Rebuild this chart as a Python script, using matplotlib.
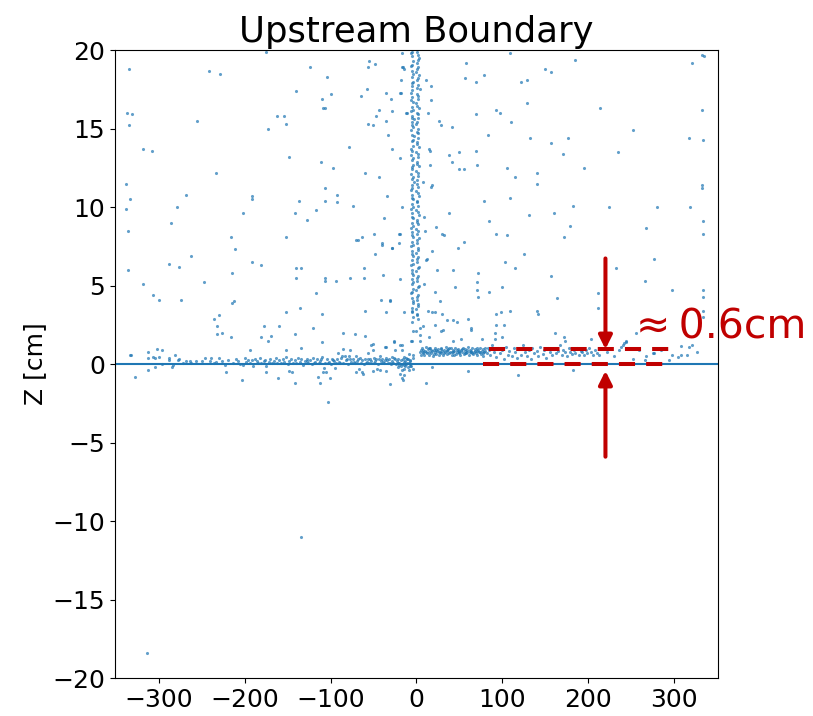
import numpy as np
import matplotlib.pyplot as plt

# scattered hits away from the boundary (x [cm], z [cm])
halo = [(-335, 18.8), (-242, 18.7), (-229, 18.5), (-175, 19.9), (-124, 18.9), (-104, 18.3), (-55, 19.3),
        (-56, 18.9), (-48, 19.1), (-17, 19.8), (-17, 18.9), (-15, 18.8), (-140, 17.4), (-110, 16.9),
        (-99, 17.2), (-109, 16.3), (-106, 16.3), (-65, 17.1), (-58, 17.5), (-35, 17.3), (-30, 16.9),
        (-18, 17.3), (-18, 18.1), (-12, 16.0), (-337, 16.0), (-331, 15.9), (-335, 15.2), (-256, 15.5),
        (-163, 15.8), (-154, 15.8), (-152, 15.3), (-173, 15.0), (-44, 16.2), (-47, 15.8), (-57, 15.3),
        (-51, 15.2), (-36, 15.5), (-29, 16.1), (-33, 14.6), (-319, 13.7), (-308, 13.6), (-234, 12.2),
        (-148, 13.2), (-79, 13.8), (-111, 12.9), (-97, 12.5), (-28, 13.7), (-19, 13.1), (-60, 12.2),
        (-44, 11.9), (-338, 11.5), (-334, 10.5), (-338, 9.9), (-336, 8.5), (-268, 10.8), (-279, 10.0),
        (-286, 9.0), (-192, 10.7), (-192, 10.5), (-202, 9.6), (-137, 10.4), (-141, 9.6), (-127, 9.2),
        (-117, 9.8), (-107, 11.2), (-106, 10.4), (-93, 10.8), (-92, 10.3), (-74, 10.1), (-17, 10.0),
        (-34, 10.7), (-38, 9.3), (-152, 8.1), (-216, 8.1), (-211, 7.3), (-263, 6.9), (-336, 6.0),
        (-288, 6.4), (-277, 6.2), (-319, 5.1), (-307, 4.4), (-300, 4.1), (-274, 4.1), (-247, 5.2),
        (-215, 5.8), (-215, 3.9), (-213, 4.0), (-192, 6.5), (-181, 6.3), (-140, 6.1), (-135, 6.1),
        (-140, 5.5), (-106, 5.5), (-106, 5.3), (-94, 5.3), (-77, 5.5), (-61, 5.5), (-61, 6.1),
        (-70, 7.9), (-68, 7.9), (-64, 8.1), (-50, 8.3), (-40, 7.7), (-29, 7.4), (-20, 8.3), (-20, 7.7),
        (-48, 7.0), (-39, 5.7), (-19, 5.4), (-117, 4.5), (-136, 3.6), (-152, 3.3), (-110, 3.2),
        (-121, 2.3), (-110, 1.4), (-85, 2.0), (-72, 1.9), (-60, 1.8), (-60, 3.4), (-41, 4.1), (-31, 4.1),
        (-35, 3.3), (-14, 3.3), (-51, 1.3), (-37, 1.1), (-26, 1.4), (-17, 1.2), (-236, 2.9), (-230, 3.1),
        (-232, 2.4), (-232, 1.9), (-227, 2.0), (-216, 1.7), (-178, 2.4), (-160, 2.4), (-169, 1.8),
        (-173, 1.5), (-181, 1.7), (-142, 1.9), (-135, 1.0), (-152, 0.9), (-194, 0.9), (-332, 0.6),
        (-16, 18.9), (-19, 17.3), (-11, 16.0), (-19, 8.3), (-28, 7.4), (-40, 7.6), (-31, 4.0),
        (-328, -0.8), (-103, -2.4), (-135, -11.0), (-314, -18.4), (-203, -1.0), (-141, -1.2),
        (-112, -1.2), (-31, -1.25),
        (109, 19.8), (185, 19.4), (332, 19.7), (335, 19.6), (321, 19.2), (58, 19.2), (57, 18.2),
        (69, 18.0), (79, 18.4), (150, 18.8), (157, 18.6), (122, 18.0), (129, 18.1), (17, 17.7),
        (17, 16.8), (129, 16.6), (214, 16.3), (332, 16.2), (92, 16.2), (97, 16.0), (69, 15.9),
        (13, 16.0), (26, 15.5), (29, 15.2), (41, 15.1), (110, 15.4), (83, 14.6), (132, 14.4),
        (157, 14.1), (176, 14.4), (252, 14.9), (317, 14.4), (333, 14.3), (14, 13.7), (16, 13.6),
        (38, 13.3), (41, 12.9), (50, 13.5), (69, 13.6), (71, 12.7), (49, 12.4), (55, 12.4), (16, 12.7),
        (170, 13.4), (235, 13.5), (105, 12.5), (115, 11.9), (140, 12.2), (140, 11.5), (195, 12.5),
        (18, 11.4), (17, 11.3), (79, 10.4), (109, 10.6), (182, 10.1), (224, 10.0), (280, 10.0),
        (319, 10.0), (332, 11.4), (332, 11.2), (38, 9.6), (84, 9.1), (131, 9.5), (160, 9.6), (179, 8.8),
        (172, 8.1), (267, 8.7), (333, 9.1), (333, 8.3), (23, 8.75), (30, 8.3), (32, 8.2), (92, 8.3),
        (105, 8.2), (55, 7.75), (48, 7.4), (18, 7.2), (11, 6.6), (12, 6.7), (125, 7.0), (103, 6.5),
        (115, 6.1), (43, 6.0), (72, 5.8), (157, 5.6), (232, 6.1), (277, 6.7), (24, 6.0), (71, 5.2),
        (71, 4.75), (72, 4.25), (22, 4.6), (45, 4.9), (84, 4.6), (100, 4.9), (164, 4.2), (211, 4.5),
        (211, 3.6), (266, 5.3), (298, 4.7), (333, 4.7), (333, 4.3), (334, 3.4), (334, 3.0), (18, 3.3),
        (27, 4.0), (36, 2.8), (47, 2.7), (60, 2.9), (63, 2.3), (63, 2.2), (93, 3.2), (98, 3.3), (93, 2.5),
        (102, 2.5), (109, 3.4), (140, 3.4), (142, 3.2), (7, 2.4), (31, 2.2), (42, 1.5), (52, 1.6),
        (76, 1.6), (91, 1.95), (91, 1.6), (100, 1.7), (161, 1.95), (173, 1.5), (203, 1.6), (244, 1.4),
        (255, 1.95), (172, 1.74), (10.5, 18.1), (8, 11.6), (8.5, 9.4), (10, 8.5), (8.5, 5.1),
        (13.6, 3.4), (21, 3.3), (30, 3.2), (22, 2.5), (29, 2.1), (42, 2.8), (-4, 2.1), (-1, 2.1),
        (3.5, 2.3), (3.5, 1.85), (3.5, 1.5), (14, 1.7), (11, -1.2), (60, -0.45), (118, -0.7),
        (18, -0.17), (182, -0.38), (-17, -0.4), (-17, -0.9), (-15, -0.7)]

# hits along the boundary, x < 0
band_left = [(-333, 0.6), (-313, 0.36), (-313, 0.74), (-304, 0.40), (-302, 0.96), (-296, 0.9), (-296, -0.02),
             (-307, 0.42), (-300, 0.42), (-313, -0.4), (-304, -0.2), (-285, -0.2), (-288, 0.23), (-288, 0.40),
             (-283, -0.06), (-278, 0.26), (-281, 0.55), (-277, 0.3), (-272, 0.1), (-268, 0.19), (-264, 0.19),
             (-262, 0.05), (-257, 0.19), (-250, 0.19), (-246, 0.40), (-241, 0.19), (-239, 0.40), (-236, 0.05),
             (-233, 0.15), (-230, 0.40), (-227, 0.19), (-223, -0.06), (-222, -0.5), (-219, 0.26), (-214, 0.1),
             (-210, 0.3), (-208, 0.19), (-205, 0.0), (-202, -0.06), (-200, 0.36), (-198, 0.15), (-196, 0.25),
             (-194, 0.05), (-192, 0.26), (-190, -0.15), (-188, 0.3), (-186, 0.19), (-184, 0.1), (-182, 0.36),
             (-181, 0.04), (-178, 0.2), (-176, 0.26), (-175, -0.1), (-175, -0.5), (-172, 0.15), (-170, 0.3),
             (-168, 0.05), (-166, 0.22), (-164, 0.4), (-162, 0.1), (-161, -0.87), (-160, 0.25), (-158, 0.05),
             (-156, 0.3), (-154, 0.15), (-152, 0.45), (-150, 0.0), (-149, -0.45), (-148, 0.2), (-146, 0.35),
             (-145, -0.5), (-144, 0.1), (-142, 0.25), (-140, 0.05), (-138, 0.4), (-136, 0.15), (-134, 0.3),
             (-132, -0.05), (-130, 0.2), (-128, 0.35), (-126, 0.1), (-124, 0.25), (-122, 0.0), (-120, 0.4),
             (-118, 0.15), (-116, 0.3), (-115, -0.8), (-114, 0.05), (-112, 0.2), (-110, 0.45), (-109, -0.5),
             (-108, -0.28), (-107, 0.1), (-105, -0.49), (-104, 0.3), (-102, 0.15), (-101, -0.9), (-100, 0.0),
             (-98, 0.35), (-96, 0.2), (-95, -0.22), (-94, 0.05), (-92, 0.3), (-91, 0.68), (-90, 0.15),
             (-88, 0.4), (-87, 0.49), (-86, 0.95), (-85, 0.1), (-83, 0.49), (-82, 0.25), (-80, 0.0),
             (-79, 0.5), (-78, 0.35), (-77, 0.9), (-76, 0.15), (-74, 0.3), (-72, 0.05), (-71, 0.5),
             (-70, -0.49), (-69, 0.2), (-67, -0.3), (-66, 0.4), (-65, 0.1), (-64, -0.5), (-63, 0.25),
             (-62, -0.6), (-61, 0.0), (-60, 0.35), (-58, 0.15), (-57, 0.68), (-56, 0.3), (-55, 0.05),
             (-53, 1.2), (-53, 0.2), (-51, -0.45), (-51, 0.9), (-50, 0.4), (-49, 0.1), (-47, 0.3), (-46, -0.3),
             (-45, 0.0), (-43, 0.5), (-42, -0.4), (-41, 0.2), (-40, 0.35), (-38, 0.05), (-37, 0.25),
             (-36, -0.45), (-36, 1.1), (-35, 0.4), (-33, 0.1), (-32, 0.3), (-30, 0.0), (-29, 0.2), (-28, 0.45),
             (-27, 0.1), (-26, 1.47), (-25, 0.9), (-25, 0.3), (-24, 0.0), (-23, 0.2), (-22, -0.2), (-21, 0.35),
             (-20, -0.06), (-20, 0.1), (-19, 1.2), (-19, -0.6), (-18, 0.25), (-17, 0.0), (-17, 0.9),
             (-16, -1.0), (-16, 0.3), (-15, 0.15), (-14, -0.06), (-14, -0.3), (-13, 0.2), (-12, 0.4),
             (-12, 0.0), (-11, 0.1), (-10, -0.2), (-10, 0.3), (-9, 0.64), (-9, 0.05), (-8, -0.15), (-8, 0.2),
             (-7, 0.0), (-6, 1.5), (-5, 1.5), (-4, 0.6), (-4, 0.4), (-4, -0.3),
             (-127, 0.22), (-119, 0.05), (-111, 0.32), (-103, 0.1), (-97, 0.25), (-89, 0.05), (-81, 0.3),
             (-73, 0.15), (-68, 0.35), (-59, 0.1), (-54, 0.3), (-48, 0.2), (-44, 0.35), (-39, 0.15),
             (-34, 0.25), (-31, 0.1), (-26, 0.4), (-22, 0.1), (-18, -0.1), (-15, 0.45), (-13, -0.15),
             (-11, 0.3), (-9, -0.4), (-7, 0.25), (-6, -0.1)]

# vertical column of hits near x = 0
column = [(-5, 19.9), (1, 19.9), (2, 19.7), (-5, 19.6), (3, 19.5), (-4, 19.3), (1, 19.2), (-6, 19.0), (2, 18.9),
          (-5, 18.7), (0, 18.6), (3, 18.4), (-5, 18.3), (-4, 18.0), (1, 18.1), (2, 17.8), (-5, 17.7), (4, 17.5),
          (-6, 17.3), (1, 17.2), (-5, 17.0), (2, 16.9), (-4, 16.7), (0, 16.6), (-5, 16.4), (3, 16.3),
          (-6, 16.1), (1, 16.0), (-5, 15.8), (2, 15.7), (-3, 15.6), (-5, 15.4), (0, 15.3), (-4, 15.1),
          (2, 15.0), (-6, 14.9), (1, 14.8), (-5, 14.6), (-3, 14.5), (2, 14.4), (-5, 14.2), (1, 14.0),
          (-4, 13.9), (3, 13.8), (-5, 13.6), (0, 13.5), (-6, 13.3), (2, 13.2), (-5, 13.0), (1, 12.9),
          (-4, 12.7), (3, 12.6), (-5, 12.4), (0, 12.3), (-6, 12.1), (2, 12.0), (-5, 11.8), (1, 11.7),
          (-3, 11.6), (-5, 11.4), (2, 11.3), (-6, 11.1), (0, 11.0), (-5, 10.8), (3, 10.7), (-4, 10.5),
          (1, 10.4), (-5, 10.2), (2, 10.1), (-6, 9.9), (0, 9.8), (-5, 9.6), (3, 9.5), (-4, 9.3), (1, 9.2),
          (-5, 9.0), (2, 8.9), (-6, 8.7), (0, 8.6), (-5, 8.4), (1, 8.3), (-4, 8.1), (3, 8.0), (-5, 7.8),
          (1, 7.7), (-6, 7.5), (2, 7.4), (-5, 7.2), (0, 7.1), (-4, 6.9), (2, 6.8), (-5, 6.6), (1, 6.5),
          (-6, 6.3), (3, 6.2), (-5, 6.0), (0, 5.9), (-4, 5.7), (2, 5.6), (-5, 5.4), (1, 5.3), (-5, 5.1),
          (3, 5.0), (-4, 4.8), (0, 4.7), (-6, 4.5), (2, 4.4), (-5, 4.2), (1, 4.1), (-4, 3.9), (2, 3.8),
          (-5, 3.6), (0, 3.5), (-5, 3.3), (1, 3.2), (-4, 3.0), (2, 2.9), (-5, 2.7),
          (-6, 19.8), (2, 19.4), (-5, 19.05), (1, 18.8), (-4, 18.5), (2, 18.25), (-5, 17.9), (1, 17.6),
          (-5, 17.45), (2, 17.1), (-6, 16.8), (1, 16.45), (-4, 16.2), (2, 15.9), (-5, 15.65), (1, 15.45),
          (-5, 15.2), (2, 14.7), (-4, 14.3), (1, 14.15), (-6, 13.7), (2, 13.4), (-4, 13.1), (1, 12.75),
          (-5, 12.55), (2, 12.2), (-4, 11.9), (1, 11.5), (-5, 11.2), (2, 10.9), (-5, 10.6), (1, 10.3),
          (-4, 10.0), (2, 9.7), (-5, 9.4), (1, 9.05), (-4, 8.8), (2, 8.5), (-5, 8.2), (1, 7.9), (-4, 7.6),
          (2, 7.25), (-5, 7.0), (1, 6.7), (-4, 6.4), (2, 6.1), (-5, 5.8), (1, 5.5), (-4, 5.2), (2, 4.9),
          (-5, 4.6), (1, 4.3), (-4, 4.0), (2, 3.7), (-5, 3.4), (1, 3.1)]

# hits along the shifted boundary, x > 0
band_right = [(4, 0.8), (5, 0.6), (6, 1.0), (7, 0.75), (8, 0.9), (9, 0.55), (10, 0.85), (11, 1.1), (12, 0.7),
              (13, 0.95), (14, 0.6), (15, 0.8), (16, 1.0), (17, 0.7), (18, 0.85), (19, 0.5), (20, 0.9),
              (21, 0.75), (22, 1.05), (23, 0.65), (24, 0.85), (25, 0.95), (26, 0.6), (27, 0.8), (28, 1.0),
              (29, 0.7), (30, 0.85), (31, 0.55), (32, 0.9), (33, 0.75), (34, 1.1), (35, 0.65), (36, 0.85),
              (37, 0.95), (38, 0.7), (39, 0.8), (40, 1.0), (41, 0.6), (42, 0.9), (43, 0.75), (44, 0.85),
              (45, 1.05), (46, 0.65), (47, 0.8), (48, 0.95), (49, 0.7), (50, 0.85), (51, 0.55), (52, 0.9),
              (53, 0.75), (54, 1.0), (55, 0.65), (56, 0.85), (57, 0.95), (58, 0.7), (59, 0.8), (60, 1.1),
              (61, 0.6), (62, 0.9), (63, 0.75), (64, 0.85), (65, 1.0), (66, 0.65), (67, 0.8), (68, 0.95),
              (69, 0.7), (70, 0.85), (71, 0.55), (72, 0.9), (73, 0.75), (74, 1.05), (75, 0.65), (76, 0.85),
              (77, 0.95), (78, 0.5), (79, 0.8), (80, 1.0), (82, 0.7), (84, 0.9),
              (5, 0.9), (8, 0.7), (11, 0.8), (14, 1.0), (17, 0.9), (20, 0.65), (23, 0.9), (26, 0.8), (29, 0.95),
              (32, 0.7), (35, 0.9), (38, 1.0), (41, 0.8), (44, 0.6), (47, 0.9), (50, 0.75), (53, 0.95),
              (56, 0.7), (59, 0.9), (62, 0.8), (65, 0.7), (68, 0.85), (71, 1.0), (74, 0.8), (77, 0.7),
              (80, 0.85), (83, 1.05),
              (86, 0.6), (88, 1.2), (90, 0.8), (93, 0.45), (95, 1.0), (97, 0.7), (100, 0.9), (102, 0.35),
              (104, 1.1), (106, 0.6), (108, 0.85), (111, 0.5), (113, 1.0), (115, 0.75), (117, 0.4),
              (119, 0.95), (122, 0.6), (124, 1.2), (126, 0.8), (129, 0.5), (131, 0.9), (133, 0.3),
              (135, 1.05), (137, 0.7), (140, 0.85), (142, 0.5), (144, 1.1), (147, 0.65), (149, 0.9),
              (151, 0.4), (153, 1.0), (156, 0.75), (158, 0.55), (160, 0.95), (163, 0.7), (165, 0.85),
              (167, 1.2), (169, 0.6), (171, 0.9), (173, 0.75), (175, 0.5), (177, 1.0), (179, 0.8),
              (181, 0.65), (183, 0.9), (185, 0.7), (187, 1.05), (189, 0.55), (191, 0.85), (193, 0.75),
              (195, 0.6), (197, 0.9), (199, 0.7), (201, 1.0), (203, 0.8), (205, 0.55), (208, 0.9),
              (210, 0.7), (213, 0.6),
              (222, 0.8), (230, 0.5), (236, 0.9), (238, 1.1), (240, 1.2), (242, 1.35), (244, 1.45),
              (252, 0.3), (259, 0.9), (266, 0.25), (267, 0.5), (275, 0.7), (277, 0.7), (285, 0.9),
              (294, 0.26), (298, 0.6), (304, 0.45), (308, 1.15), (308, 0.57), (315, 0.6), (317, 1.1),
              (321, 1.2), (327, 0.8)]

red = '#C00000'
plt.rcParams['font.size'] = 18

fig = plt.figure(figsize=(8.13, 7.16), dpi=100)
ax = fig.add_axes([0.1415, 0.053, 0.7416, 0.877])

for pts in (halo, band_left, column, band_right):
    x, y = np.array(pts).T
    ax.scatter(x, y, s=5, color='C0', alpha=0.7, linewidths=0)

ax.axhline(0, color='C0', lw=1.5)

ax.set_xlim(-351, 351)
ax.set_ylim(-20, 20)
ax.set_xticks([-300, -200, -100, 0, 100, 200, 300])
ax.set_yticks([-20, -15, -10, -5, 0, 5, 10, 15, 20])
ax.set_ylabel('Z [cm]')
ax.set_title('Upstream Boundary', fontsize=25.5)

# annotation: offset between the two boundary levels
ax.plot([84, 298], [0.95, 0.95], color=red, lw=2.9, ls=(0, (4, 2.75)))
ax.plot([77, 291], [0, 0], color=red, lw=2.9, ls=(0, (4, 2.75)))
ax.annotate('', xy=(220, 0.95), xytext=(220, 6.73),
            arrowprops=dict(arrowstyle='-|>', color=red, lw=2.9, mutation_scale=20, shrinkA=0, shrinkB=0))
ax.annotate('', xy=(220, -0.43), xytext=(220, -5.9),
            arrowprops=dict(arrowstyle='-|>', color=red, lw=2.9, mutation_scale=20, shrinkA=0, shrinkB=0))
ax.text(255, 1.65, '≈\u20090.6cm', color=red, fontsize=29.5, va='baseline', clip_on=False)

fig.savefig('out.png', dpi=100)
